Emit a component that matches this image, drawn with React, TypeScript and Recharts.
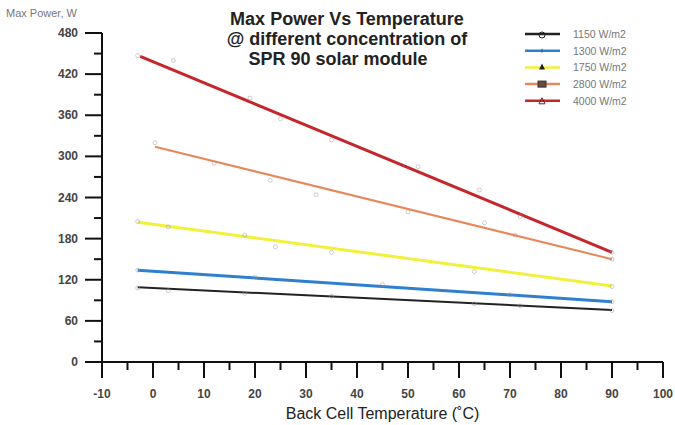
import { ComposedChart, Line, Scatter, XAxis, YAxis } from "recharts"

// fitted lines (start / end temperature and power)
const fit1150 = [{ t: -3, p: 109 }, { t: 90, p: 76 }]
const fit1300 = [{ t: -3, p: 134 }, { t: 90, p: 88 }]
const fit1750 = [{ t: -3, p: 204 }, { t: 90, p: 111 }]
const fit2800 = [{ t: 0.4, p: 314 }, { t: 90, p: 150 }]
const fit4000 = [{ t: -2.5, p: 446 }, { t: 90, p: 160 }]

// measured points (faint markers)
const pts1150 = [{ t: -3, p: 108 }, { t: 3, p: 104 }, { t: 18, p: 100 }, { t: 35, p: 96 }, { t: 63, p: 85 }, { t: 72, p: 82 }, { t: 90, p: 75 }]
const pts1300 = [{ t: -3, p: 134 }, { t: 20, p: 124 }, { t: 45, p: 113 }, { t: 70, p: 98 }, { t: 90, p: 88 }]
const pts1750 = [{ t: -3, p: 205 }, { t: 3, p: 197 }, { t: 18, p: 185 }, { t: 24, p: 168 }, { t: 35, p: 160 }, { t: 63, p: 132 }, { t: 90, p: 110 }]
const pts2800 = [{ t: 0.4, p: 320 }, { t: 12, p: 290 }, { t: 23, p: 265 }, { t: 32, p: 244 }, { t: 50, p: 219 }, { t: 65, p: 203 }, { t: 71, p: 185 }, { t: 90, p: 150 }]
const pts4000 = [{ t: -3, p: 447 }, { t: 4, p: 440 }, { t: 19, p: 385 }, { t: 25, p: 355 }, { t: 35, p: 324 }, { t: 52, p: 285 }, { t: 64, p: 251 }, { t: 72, p: 212 }, { t: 90, p: 160 }]

const xTicks = [-10, -5, 0, 5, 10, 15, 20, 25, 30, 35, 40, 45, 50, 55, 60, 65, 70, 75, 80, 85, 90, 95, 100]
const yTicks = [0, 30, 60, 90, 120, 150, 180, 210, 240, 270, 300, 330, 360, 390, 420, 450, 480]

const titleLines = ["Max Power Vs Temperature", "@ different concentration of", "SPR 90 solar module"]
const legendLabels = ["1150 W/m2", "1300 W/m2", "1750 W/m2", "2800 W/m2", "4000 W/m2"]
const legendColors = ["#222222", "#2f7fd0", "#f2f03a", "#e8875a", "#c4262b"]

const font = "'Liberation Sans', Arial, sans-serif"

const XTick = (props: any) => {
  const { x, y, payload } = props
  const major = payload.value % 10 === 0
  return (
    <g>
      <line x1={x} x2={x} y1={y} y2={y + (major ? 16 : 8)} stroke="#111" strokeWidth={2} />
      {major && (
        <text x={x} y={y + 36} textAnchor="middle" fontSize={12} fontWeight="bold" fill="#444" fontFamily={font}>
          {payload.value}
        </text>
      )}
    </g>
  )
}

const YTick = (props: any) => {
  const { x, y, payload } = props
  const major = payload.value % 60 === 0
  return (
    <g>
      <line x1={x} x2={x - (major ? 17 : 8)} y1={y} y2={y} stroke="#111" strokeWidth={2} />
      {major && (
        <text x={x - 24} y={y + 4} textAnchor="end" fontSize={12} fontWeight="bold" fill="#444" fontFamily={font}>
          {payload.value}
        </text>
      )}
    </g>
  )
}

const faint = (props: any) => {
  const { cx, cy } = props
  return <circle cx={cx} cy={cy} r={2} fill="none" stroke="#999" strokeWidth={0.8} opacity={0.6} />
}

const legendMarker = (i: number, cx: number, cy: number) => {
  if (i === 0) return <circle cx={cx} cy={cy + 1} r={3} fill="none" stroke="#222" strokeWidth={1} />
  if (i === 1) return <line x1={cx} x2={cx} y1={cy - 2} y2={cy + 2} stroke="#1d5fa0" strokeWidth={1} />
  if (i === 2) return <polygon points={`${cx},${cy - 4} ${cx - 3},${cy + 2} ${cx + 3},${cy + 2}`} fill="#222" />
  if (i === 3) return <rect x={cx - 4} y={cy - 3} width={8} height={6} fill="#6a4a3a" stroke="#333" strokeWidth={1} />
  return <polygon points={`${cx},${cy - 3} ${cx - 3},${cy + 3} ${cx + 3},${cy + 3}`} fill="none" stroke="#7a1a1d" strokeWidth={1} />
}

export default function App() {
  return (
    <div style={{ position: "absolute", left: 0, top: 0, width: 675, height: 425, background: "#fff" }}>
      <ComposedChart width={675} height={425} margin={{ top: 33, right: 12, bottom: 0, left: 0 }}>
        <XAxis
          type="number"
          dataKey="t"
          domain={[-10, 100]}
          ticks={xTicks}
          interval={0}
          tickSize={0}
          tickMargin={0}
          tick={<XTick />}
          height={63}
          axisLine={{ stroke: "#111", strokeWidth: 2 }}
          allowDuplicatedCategory={false}
          label={{
            value: "Back Cell Temperature (˚C)",
            position: "insideBottom",
            offset: 6,
            fontSize: 16,
            fill: "#222",
            fontFamily: font,
          }}
        />
        <YAxis
          type="number"
          dataKey="p"
          domain={[0, 480]}
          ticks={yTicks}
          interval={0}
          tickSize={0}
          tickMargin={0}
          tick={<YTick />}
          width={102}
          axisLine={{ stroke: "#111", strokeWidth: 2 }}
        />
        <Line data={fit1150} dataKey="p" stroke="#222222" strokeWidth={2} dot={false} isAnimationActive={false} />
        <Line data={fit1300} dataKey="p" stroke="#2f7fd0" strokeWidth={3} dot={false} isAnimationActive={false} />
        <Line data={fit1750} dataKey="p" stroke="#f2f03a" strokeWidth={3} dot={false} isAnimationActive={false} />
        <Line data={fit2800} dataKey="p" stroke="#e8875a" strokeWidth={2} dot={false} isAnimationActive={false} />
        <Line data={fit4000} dataKey="p" stroke="#c4262b" strokeWidth={3} dot={false} isAnimationActive={false} />
        <Scatter data={pts1150} dataKey="p" shape={faint} isAnimationActive={false} />
        <Scatter data={pts1300} dataKey="p" shape={faint} isAnimationActive={false} />
        <Scatter data={pts1750} dataKey="p" shape={faint} isAnimationActive={false} />
        <Scatter data={pts2800} dataKey="p" shape={faint} isAnimationActive={false} />
        <Scatter data={pts4000} dataKey="p" shape={faint} isAnimationActive={false} />
      </ComposedChart>
      <svg width={675} height={425} style={{ position: "absolute", left: 0, top: 0, pointerEvents: "none" }}>
        <line x1={85} x2={102} y1={362} y2={362} stroke="#111" strokeWidth={2} />
        <text x={6} y={17} fontSize={11} fill="#777" fontFamily={font}>
          Max Power, W
        </text>
        {titleLines.map((s, i) => (
          <text
            key={s}
            x={i === 2 ? 338 : 347}
            y={25 + i * 20}
            textAnchor="middle"
            fontSize={18}
            fontWeight="bold"
            fill="#222"
            fontFamily={font}
          >
            {s}
          </text>
        ))}
        {legendLabels.map((s, i) => (
          <g key={s}>
            <line x1={525} x2={560} y1={34 + i * 16.7} y2={34 + i * 16.7} stroke={legendColors[i]} strokeWidth={2.5} />
            {legendMarker(i, 542, 34 + i * 16.7)}
            <text x={573} y={38 + i * 16.7} fontSize={10.5} fill="#777" fontFamily={font}>
              {s}
            </text>
          </g>
        ))}
      </svg>
    </div>
  )
}
